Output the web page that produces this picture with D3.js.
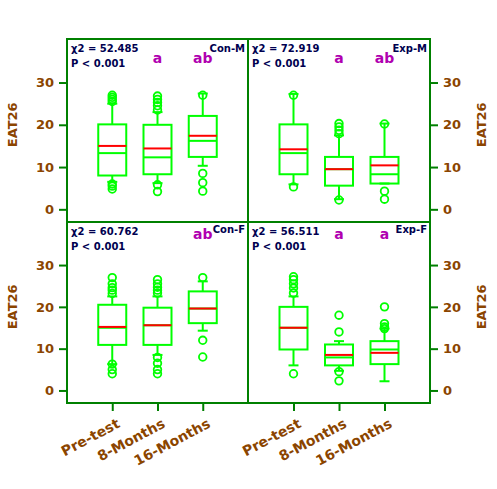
<!DOCTYPE html>
<html>
<head>
<meta charset="utf-8">
<script src="https://cdn.jsdelivr.net/npm/d3@7"></script>
<style>
  body { margin: 0; background: #fff; }
  text { font-family: "DejaVu Sans", sans-serif; }
</style>
</head>
<body>
<script>
// panels and groups
var panelNames = ["Con-M", "Exp-M", "Con-F", "Exp-F"];
var categories = ["Pre-test", "8-Months", "16-Months"];
var chiValues = ["52.485", "72.919", "60.762", "56.511"];
var pValues = ["0.001", "0.001", "0.001", "0.001"];
// significance letters per category (empty = none)
var sigLetters = [["", "a", "ab"], ["", "a", "ab"], ["", "", "ab"], ["", "a", "a"]];

// box stats, one row per panel, one value per category
var q1Vals     = [[8, 8.3, 12.4], [8.3, 5.6, 6.1], [10.9, 10.9, 16.1], [9.8, 6, 6.3]];
var medianVals = [[13.3, 12.3, 16.2], [13.3, 9.5, 8.3], [15, 15.6, 19.6], [15, 7.9, 9.8]];
var q3Vals     = [[20.1, 20, 22.1], [20.1, 12.4, 12.4], [20.5, 19.8, 23.7], [20, 11, 11.8]];
var meanVals   = [[15, 14.4, 17.4], [14.2, 9.5, 10.4], [15.2, 15.6, 19.6], [15, 8.5, 9]];
var whiskLow   = [[6.5, 6.2, 10.3], [5.9, 2.4, 6.1], [6.3, 8.5, 14.3], [6, 4.7, 2.2]];
var whiskHigh  = [[25, 23, 27.4], [27.3, 17.5, 20.3], [22.5, 22.5, 26.1], [22.5, 11.8, 14.8]];
var outliers = [
  [[27, 26.5, 26, 25.5, 6, 5.5, 4.8], [26.8, 26, 25.3, 24.5, 23.5, 5.8, 4.2], [27, 8.5, 6.3, 4.3]],
  [[27, 5.3], [20.3, 19.5, 18.7, 17.9, 2.2], [20.2, 4.3, 2.4]],
  [[27, 25.5, 24.6, 24, 23.2, 6.3, 5, 4], [26.5, 25.5, 24.7, 24, 23.3, 7.9, 6.5, 5, 4], [27, 12, 8]],
  [[27.2, 26.5, 25.5, 24.5, 23.3, 4], [18, 14, 4.5, 2.3], [20, 16, 15.2, 14.8]]
];
var yTicks = [0, 10, 20, 30];

var W = 497, H = 489;
var frameL = 67, frameM = 248, frameR = 430, frameT = 39, frameMY = 222, frameB = 403;
var green = "#008000", boxGreen = "#00ff00", brown = "#8b4500", navy = "#000050", purple = "#b000b0";

var svg = d3.select("body").append("svg").attr("width", W).attr("height", H);

var cells = [
  {x0: frameL, x1: frameM, y0: frameT, y1: frameMY, side: "left", bottomAxis: false},
  {x0: frameM, x1: frameR, y0: frameT, y1: frameMY, side: "right", bottomAxis: false},
  {x0: frameL, x1: frameM, y0: frameMY, y1: frameB, side: "left", bottomAxis: true},
  {x0: frameM, x1: frameR, y0: frameMY, y1: frameB, side: "right", bottomAxis: true}
];

cells.forEach(function(c, p) {
  var x = d3.scaleLinear().domain([0, 4]).range([c.x0, c.x1]);
  var y = d3.scaleLinear().domain([-3, 40.3]).range([c.y1, c.y0]);
  var g = svg.append("g");
  var bw = 28;

  categories.forEach(function(cat, i) {
    var cx = x(i + 1);
    // whiskers
    g.append("line").attr("x1", cx).attr("x2", cx).attr("y1", y(q3Vals[p][i])).attr("y2", y(whiskHigh[p][i]))
      .attr("stroke", boxGreen).attr("stroke-width", 2);
    g.append("line").attr("x1", cx).attr("x2", cx).attr("y1", y(q1Vals[p][i])).attr("y2", y(whiskLow[p][i]))
      .attr("stroke", boxGreen).attr("stroke-width", 2);
    [whiskHigh[p][i], whiskLow[p][i]].forEach(function(v) {
      g.append("line").attr("x1", cx - 5).attr("x2", cx + 5).attr("y1", y(v)).attr("y2", y(v))
        .attr("stroke", boxGreen).attr("stroke-width", 2);
    });
    // box
    g.append("rect").attr("x", cx - bw / 2).attr("width", bw)
      .attr("y", y(q3Vals[p][i])).attr("height", y(q1Vals[p][i]) - y(q3Vals[p][i]))
      .attr("fill", "none").attr("stroke", boxGreen).attr("stroke-width", 2);
    g.append("line").attr("x1", cx - bw / 2).attr("x2", cx + bw / 2)
      .attr("y1", y(medianVals[p][i])).attr("y2", y(medianVals[p][i]))
      .attr("stroke", boxGreen).attr("stroke-width", 2);
    g.append("line").attr("x1", cx - bw / 2).attr("x2", cx + bw / 2)
      .attr("y1", y(meanVals[p][i])).attr("y2", y(meanVals[p][i]))
      .attr("stroke", "#ff0000").attr("stroke-width", 2);
    // outlying points
    g.selectAll(null).data(outliers[p][i]).enter().append("circle")
      .attr("cx", cx).attr("cy", function(d) { return y(d); }).attr("r", 3.8)
      .attr("fill", "none").attr("stroke", boxGreen).attr("stroke-width", 1.8);
    // letters
    if (sigLetters[p][i]) {
      g.append("text").attr("x", cx).attr("y", c.y0 + (p < 2 ? 24 : 17))
        .attr("text-anchor", "middle").attr("fill", purple)
        .style("font-size", "14px").style("font-weight", "bold").text(sigLetters[p][i]);
    }
  });

  // stats text
  g.append("text").attr("x", c.x0 + 4).attr("y", c.y0 + 13).attr("fill", navy)
    .style("font-size", "10px").style("font-weight", "bold").text("\u03c72 = " + chiValues[p]);
  g.append("text").attr("x", c.x0 + 4).attr("y", c.y0 + 28).attr("fill", navy)
    .style("font-size", "10px").style("font-weight", "bold").text("P < " + pValues[p]);
  g.append("text").attr("x", c.x1 - 3).attr("y", c.y0 + (p < 2 ? 13 : 11)).attr("fill", navy)
    .attr("text-anchor", "end").style("font-size", "10px").style("font-weight", "bold").text(panelNames[p]);

  // y axis
  var yAxis = c.side === "left" ? d3.axisLeft(y) : d3.axisRight(y);
  yAxis.tickValues(yTicks).tickSize(8).tickPadding(5);
  var ax = svg.append("g").attr("transform", "translate(" + (c.side === "left" ? c.x0 : c.x1) + ",0)").call(yAxis);
  ax.select(".domain").remove();
  ax.selectAll("line").attr("stroke", green).attr("stroke-width", 2);
  ax.selectAll("text").attr("fill", brown).style("font-size", "13px").style("font-weight", "bold")
    .style("font-family", "DejaVu Sans, sans-serif");

  svg.append("text")
    .attr("transform", "translate(" + (c.side === "left" ? 17 : 486) + "," + y(20) + ") rotate(-90)")
    .attr("text-anchor", "middle").attr("fill", brown)
    .style("font-size", "13px").style("font-weight", "bold").text("EAT26");

  if (c.bottomAxis) {
    var xb = d3.axisBottom(x).tickValues([1, 2, 3]).tickSize(8).tickFormat("");
    var bx = svg.append("g").attr("transform", "translate(0," + c.y1 + ")").call(xb);
    bx.select(".domain").remove();
    bx.selectAll("line").attr("stroke", green).attr("stroke-width", 2);
    categories.forEach(function(cat, i) {
      svg.append("text")
        .attr("transform", "translate(" + (x(i + 1) + 4) + "," + (c.y1 + 15) + ") rotate(-28)")
        .attr("text-anchor", "end").attr("dy", "0.7em").attr("fill", brown)
        .style("font-size", "14px").style("font-weight", "bold")
        .style("font-family", "'Comic Sans MS', 'DejaVu Sans', sans-serif").text(cat);
    });
  }
});

// frame
svg.append("rect").attr("x", frameL).attr("y", frameT).attr("width", frameR - frameL).attr("height", frameB - frameT)
  .attr("fill", "none").attr("stroke", green).attr("stroke-width", 2);
svg.append("line").attr("x1", frameM).attr("x2", frameM).attr("y1", frameT).attr("y2", frameB)
  .attr("stroke", green).attr("stroke-width", 2);
svg.append("line").attr("x1", frameL).attr("x2", frameR).attr("y1", frameMY).attr("y2", frameMY)
  .attr("stroke", green).attr("stroke-width", 2);
</script>
</body>
</html>
